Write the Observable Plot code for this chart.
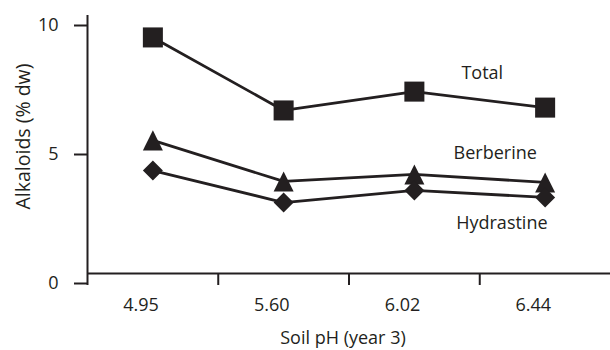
<!DOCTYPE html>
<html>
<head>
<meta charset="utf-8">
<script src="https://cdn.jsdelivr.net/npm/d3@7"></script>
<script src="https://cdn.jsdelivr.net/npm/@observablehq/plot@0.6"></script>
<style>
  html, body { margin: 0; padding: 0; background: #fff; }
</style>
</head>
<body>
<div id="chart"></div>
<script>
const categories = ["4.95", "5.60", "6.02", "6.44"];
const seriesNames = ["Total", "Berberine", "Hydrastine"];
const total = [9.15, 6.32, 7.05, 6.43];
const berberine = [5.16, 3.57, 3.84, 3.53];
const hydrastine = [3.99, 2.75, 3.22, 2.95];
const yTicks = [0, 5, 10];

const ink = "#231f20";

function shape(kind) {
  return {
    draw(ctx, size) {
      const h = Math.sqrt(size) / 2;
      if (kind === "square") {
        ctx.moveTo(-h, -h); ctx.lineTo(h, -h); ctx.lineTo(h, h); ctx.lineTo(-h, h); ctx.closePath();
      } else if (kind === "triangle") {
        ctx.moveTo(0, -h); ctx.lineTo(h, h); ctx.lineTo(-h, h); ctx.closePath();
      } else {
        ctx.moveTo(0, -h); ctx.lineTo(h, 0); ctx.lineTo(0, h); ctx.lineTo(-h, 0); ctx.closePath();
      }
    }
  };
}

const valuesBySeries = [total, berberine, hydrastine];
const symbols = [shape("square"), shape("triangle"), shape("diamond")];
const rows = [];
seriesNames.forEach((s, k) => {
  valuesBySeries[k].forEach((v, i) => rows.push({series: s, i, value: v, k}));
});

const labelRows = [
  {name: seriesNames[0], x: 2.36, y: 7.75},
  {name: seriesNames[1], x: 2.30, y: 4.65},
  {name: seriesNames[2], x: 2.32, y: 1.94}
];

const font = {fontFamily: "Open Sans", fontSize: 18};

const chart = Plot.plot({
  width: 610,
  height: 350,
  marginTop: 15,
  marginBottom: 77,
  marginLeft: 87,
  marginRight: 0,
  style: {fontFamily: "Open Sans", fontSize: "18px", color: ink, background: "#fff"},
  x: {domain: [-0.5, 3.5]},
  y: {domain: [0, 10]},
  marks: [
    // y axis ticks and labels
    Plot.axisY({ticks: yTicks, tickSize: 13, tickPadding: 16, dy: 10, stroke: ink, fill: ink, strokeWidth: 2, label: null, ...font}),
    // x axis tick marks (boundaries)
    Plot.axisX({ticks: categories.map((c, i) => i - 0.5), tickSize: 12, tickFormat: () => "", stroke: ink, strokeWidth: 2, label: null}),
    // x axis category labels
    Plot.axisX({ticks: categories.map((c, i) => i - 0.09), tickSize: 0, tickPadding: 25, tickFormat: (d) => categories[Math.round(d + 0.09)], fill: ink, label: null, ...font}),
    // axis lines
    Plot.ruleY([0], {stroke: ink, strokeWidth: 2}),
    Plot.ruleX([-0.5], {y1: 0, y2: 10, stroke: ink, strokeWidth: 2}),
    // series lines
    Plot.line(rows, {x: "i", y: "value", z: "series", stroke: ink, strokeWidth: 2.8}),
    // markers
    ...seriesNames.map((s, k) =>
      Plot.dot(rows.filter(r => r.k === k), {x: "i", y: "value", r: 11.3, symbol: symbols[k], fill: ink, stroke: "none"})
    ),
    // series labels
    Plot.text(labelRows, {x: "x", y: "y", text: "name", textAnchor: "start", fill: ink, ...font}),
    // axis titles
    Plot.text(["Soil pH (year 3)"], {frameAnchor: "bottom", textAnchor: "middle", lineAnchor: "middle", dx: -6, dy: 65, fill: ink, ...font}),
    Plot.text(["Alkaloids (% dw)"], {frameAnchor: "left", textAnchor: "middle", lineAnchor: "middle", dx: -64, dy: -8, rotate: -90, fill: ink, fontFamily: "Open Sans", fontSize: 19.5})
  ]
});

document.getElementById("chart").appendChild(chart);
</script>
</body>
</html>
